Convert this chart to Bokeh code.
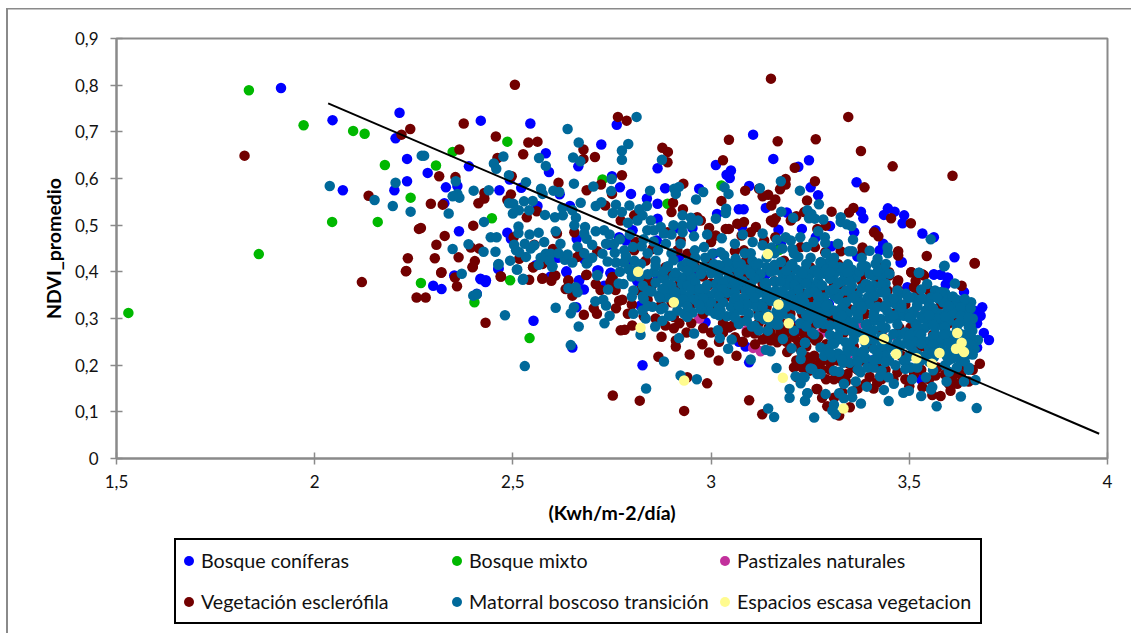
from bokeh.plotting import figure
from bokeh.layouts import column
from bokeh.models import Legend, LegendItem, FixedTicker
from bokeh.embed import file_html
from bokeh.resources import INLINE

x_ticks = [1.5, 2, 2.5, 3, 3.5, 4]
x_labels = ["1,5", "2", "2,5", "3", "3,5", "4"]
y_ticks = [0, 0.1, 0.2, 0.3, 0.4, 0.5, 0.6, 0.7, 0.8, 0.9]
y_labels = ["0", "0,1", "0,2", "0,3", "0,4", "0,5", "0,6", "0,7", "0,8", "0,9"]
trend_x = [2.034, 3.979]
trend_y = [0.761, 0.053]

coniferas = [(1.915,.794),(2.045,.725),(2.214,.741),(2.204,.686),(2.233,.642),(2.071,.575),(2.201,.575),(2.233,.594),
(2.419,.724),(2.544,.718),(2.762,.715),(2.723,.673),(2.583,.654),(2.389,.626),(2.285,.612),(2.591,.614),(2.665,.626),(2.865,.622),(3.012,.629),(3.05,.617),(3.039,.608),(3.047,.601),(2.75,.605),(2.331,.581),(2.36,.584),(2.492,.598),(2.521,.58),(2.466,.575),(2.77,.581),(2.618,.566),(2.798,.567),(2.884,.579),(2.97,.578),(2.838,.557),(2.865,.546),(3.07,.534),(3.015,.524),(2.865,.514),(2.644,.541),(2.562,.541),(2.327,.547),(2.364,.487),(2.486,.484),(2.495,.471),(2.768,.474),(2.785,.467),(2.802,.489),(2.661,.471),(2.743,.458),(2.915,.494),(2.953,.494),(2.613,.43),(2.68,.427),(2.558,.414),(2.464,.407),(2.635,.401),(2.716,.403),(2.747,.398),(2.789,.421),(2.352,.392),(2.418,.385),(2.432,.382),(2.667,.382),(2.814,.382),(2.865,.385),(2.919,.432),(2.957,.389),(3.007,.439),(2.863,.467),
(3.106,.694),(3.157,.642),(3.22,.625),(3.247,.639),(3.367,.592),(3.096,.584),(3.251,.581),(3.27,.564),(3.082,.534),(3.138,.537),(3.191,.527),(3.378,.529),(3.384,.515),(3.446,.536),(3.463,.529),(3.436,.522),(3.487,.521),(3.483,.504),(3.415,.489),(3.533,.482),(3.562,.474),(3.17,.49),(3.229,.492),(3.3,.498),(3.361,.485),(3.264,.474),(3.304,.455),(3.176,.459),(3.434,.46),(3.425,.446),(3.369,.433),(3.481,.421),(3.614,.431),(3.562,.394),(3.579,.394),(3.598,.387),(3.146,.407),(3.138,.394),(3.078,.496),
(2.299,.37),(2.32,.363),(2.409,.353),(2.419,.384),(2.431,.378),(2.552,.295),(2.65,.238),(2.635,.399),(2.66,.324),(2.679,.362),(2.667,.381),(2.73,.37),(2.746,.397),(2.713,.403),(2.595,.39),(2.463,.406),
(2.827,.2),(3.096,.206),(3.087,.24),(3.07,.25),(3.045,.281),(2.986,.292),(2.948,.367),(2.814,.38),(2.822,.328),(2.961,.356),(3.209,.285),(3.217,.274),
(3.562,.395),(3.579,.394),(3.596,.388),(3.592,.373),(3.638,.357),(3.684,.324),(3.663,.317),(3.68,.306),(3.671,.29),(3.688,.269),(3.701,.254),(3.671,.238),(3.613,.331),(3.629,.333),(3.478,.42),(3.495,.367),(3.404,.21),(3.529,.17),(3.297,.331)]

mixto = [(1.53,.312),(1.834,.789),(1.972,.714),(2.097,.702),(2.126,.696),(2.177,.629),(2.242,.559),(2.044,.507),(2.159,.507),(1.859,.438),(2.268,.376),(2.403,.335),(2.493,.382),(2.542,.258),
(2.486,.679),(2.348,.657),(2.306,.628),(2.726,.598),(3.026,.585),(2.89,.546),(2.447,.515),(3.172,.447)]

pastizales = [(2.97,.3),(3.09,.274),(3.106,.237),(3.125,.23),(3.512,.313),(3.276,.268),(3.243,.217),(3.344,.217),(3.466,.263),(3.369,.285),(3.247,.281)]

esclerofila = [(1.823,.649),(2.241,.706),(2.219,.694),(2.136,.563),(2.263,.492),(2.235,.429),(2.23,.401),(2.119,.378),
(2.505,.801),(2.376,.718),(2.457,.69),(2.539,.677),(2.562,.679),(2.365,.662),(2.526,.652),(2.461,.644),(2.765,.732),(2.787,.724),(2.678,.662),(2.678,.642),(2.707,.646),(2.877,.666),(2.891,.657),(2.89,.635),(3.045,.683),(3.03,.639),(2.775,.607),(2.314,.605),(2.355,.603),(2.615,.591),(2.497,.605),(2.722,.587),(2.686,.575),(2.75,.567),(2.93,.589),(2.428,.569),(2.495,.566),(2.486,.554),(2.428,.557),(2.413,.547),(2.293,.546),(2.323,.544),(2.56,.53),(2.535,.517),(2.733,.542),(2.904,.548),(2.9,.528),(2.929,.534),(3.026,.552),(2.806,.521),(2.772,.51),(2.268,.494),(2.4,.499),(2.328,.477),(2.307,.458),(2.303,.429),(2.32,.399),(2.363,.431),(2.394,.452),(2.415,.45),(2.404,.423),(2.398,.41),(2.502,.474),(2.611,.482),(2.655,.485),(2.554,.458),(2.601,.449),(2.516,.428),(2.551,.41),(2.575,.417),(2.47,.39),(2.607,.392),(2.575,.387),(2.64,.382),(2.686,.394),(2.751,.389),(2.663,.432),(2.671,.442),(2.713,.444),(2.81,.464),(2.806,.446),(2.835,.424),(2.852,.449),(2.89,.485),(2.923,.467),(2.965,.517),(2.974,.51),(2.995,.494),(3.037,.492),(3.045,.492),(3.066,.503),(3.012,.478),(3.0,.464),(3.06,.444),(2.915,.446),(2.94,.439),(2.89,.396),(2.839,.385),(3.045,.403),(2.99,.424),
(3.151,.814),(3.346,.732),(3.168,.68),(3.264,.684),(3.378,.659),(3.458,.626),(3.609,.606),(3.211,.623),(3.188,.599),(3.188,.587),(3.174,.577),(3.262,.594),(3.387,.581),(3.086,.574),(3.121,.578),(3.13,.562),(3.144,.565),(3.162,.555),(3.152,.542),(3.242,.553),(3.304,.529),(3.359,.537),(3.348,.527),(3.454,.515),(3.504,.504),(3.083,.507),(3.151,.51),(3.163,.515),(3.157,.506),(3.201,.51),(3.215,.519),(3.235,.528),(3.268,.492),(3.289,.499),(3.113,.496),(3.1,.485),(3.077,.478),(3.162,.474),(3.411,.485),(3.422,.476),(3.382,.452),(3.382,.442),(3.327,.444),(3.288,.442),(3.262,.453),(3.472,.444),(3.472,.435),(3.544,.434),(3.665,.419),(3.32,.417),(3.382,.396),(3.449,.399),(3.505,.399),(3.537,.392),(3.472,.382),(3.184,.424),(3.18,.407),(3.083,.446),(3.088,.424),(3.079,.392),(3.134,.467),(3.226,.453),
(2.231,.402),(2.319,.398),(2.257,.345),(2.28,.345),(2.359,.369),(2.354,.388),(2.399,.411),(2.469,.39),(2.431,.291),(2.679,.308),(2.712,.31),(2.704,.322),(2.65,.349),(2.633,.363),(2.64,.38),(2.551,.41),(2.574,.385),(2.541,.383),(2.604,.392),(2.597,.381),(2.685,.393),(2.709,.374),(2.721,.361),(2.759,.361),(2.76,.322),(2.751,.388),(2.746,.378),(2.752,.135),(2.772,.275),(2.768,.338),
(2.82,.124),(2.932,.102),(3.096,.125),(3.129,.095),(2.99,.161),(2.94,.174),(2.946,.223),(2.867,.218),(2.875,.261),(2.911,.24),(2.978,.245),(2.995,.227),(3.019,.21),(3.064,.22),(3.111,.245),(2.98,.279),(2.906,.279),(2.782,.276),(2.801,.285),(2.911,.253),(2.938,.27),(3.045,.281),(2.776,.34),(2.839,.383),(2.961,.345),(2.873,.328),(2.906,.303),(3.049,.363),(3.079,.392),(2.99,.37),(3.142,.263),(3.15,.253),(3.175,.274),(3.192,.228),(3.167,.249),(3.209,.195),(3.234,.27),(3.247,.21),(3.268,.149),(3.276,.188),(3.217,.174),(3.2,.374),(3.234,.381),(3.142,.353),(2.885,.41),
(3.505,.399),(3.516,.381),(3.512,.367),(3.47,.378),(3.47,.363),(3.449,.392),(3.43,.41),(3.318,.413),(3.327,.374),(3.31,.37),(3.36,.356),(3.335,.353),(3.533,.395),(3.665,.418),(3.632,.37),(3.598,.342),(3.678,.203),(3.579,.134),(3.604,.145),(3.621,.16),(3.558,.136),(3.533,.153),(3.566,.178),(3.419,.163),(3.266,.149),(3.293,.112),(3.323,.092),(3.331,.142),(3.234,.267),(3.26,.288),(3.264,.253),(3.243,.217),(3.23,.195),(3.247,.188),(3.36,.195),(3.344,.181),(3.348,.203),(3.419,.195),(3.428,.217),(3.512,.181),(3.571,.195),(3.613,.295),(3.608,.174),(3.377,.306),(3.31,.292),(3.503,.281),(3.234,.353),(3.289,.36)]

esclerofila_centro = [(2.96,.41),(2.98,.39),(3.0,.375),(3.02,.4),(3.035,.345),(3.01,.33),(2.985,.35),(2.95,.33),(2.93,.345),(2.915,.37),(2.9,.335),(3.06,.395),(3.075,.365),(3.09,.38),(3.115,.39),(3.13,.375),(3.1,.345),(3.12,.315),(3.14,.325),(3.065,.325),(3.08,.295),(3.055,.285),(3.12,.29),(3.145,.28),(3.16,.3),(3.18,.29),(3.2,.31),(3.19,.345),(3.215,.36),(3.25,.34),(3.23,.31),(3.17,.26),(3.19,.25),(3.21,.26),(3.225,.235),(3.2,.235),(3.215,.21),(3.24,.24),(3.26,.22),(3.27,.26),(3.285,.28),(3.3,.3),(3.29,.245),(3.3,.205),(3.275,.205),(3.31,.17),(3.29,.17),(3.34,.165),(3.32,.21),(3.335,.27),(3.36,.24),(3.38,.21),(3.4,.175),(3.395,.24),(3.35,.32),(3.39,.31),(3.42,.335),(3.445,.36),(3.46,.31),(3.43,.27),(3.475,.28),(3.49,.33),(3.52,.35),(3.55,.36),(3.58,.33),(3.56,.265),(3.6,.29),(3.63,.3),(3.62,.19),(3.59,.18),(3.55,.17),(3.5,.155),(3.47,.185),(3.44,.19),(3.52,.235),(3.54,.24),(3.48,.22),(3.65,.165),(3.64,.2),(3.41,.15),(3.37,.15),(3.35,.11),(3.31,.13),(3.28,.13),(3.38,.38),(3.35,.39),(3.42,.38),(3.28,.4),(3.25,.41),(3.2,.41),(3.16,.38),(2.82,.36),(2.85,.37),(2.84,.34),(2.8,.33),(2.79,.31),(2.83,.305),(2.86,.3),(2.885,.285),(2.92,.29),(2.95,.29),(2.98,.31),(3.03,.29),(3.0,.27),(3.02,.25),(3.06,.26),(3.08,.25),
(3.03,.27),(3.09,.27),(3.11,.268),(3.13,.255),(3.15,.27),(3.17,.285),(3.19,.27),(3.21,.28),(3.22,.25),(3.25,.26),(3.26,.2),(3.28,.19),(3.3,.19),(3.33,.17),(3.37,.19),(3.39,.16),(3.43,.17),(3.46,.17),(3.49,.17),(3.53,.19),(3.6,.16),(3.63,.18),(3.66,.19)]

matorral = [(2.27,.649),(2.038,.584),(2.204,.591),(2.151,.554),(2.197,.541),(2.242,.529),
(2.638,.706),(2.812,.732),(2.666,.677),(2.791,.674),(2.775,.66),(2.775,.64),(2.276,.649),(2.476,.647),(2.566,.644),(2.652,.645),(2.67,.637),(2.583,.627),(2.452,.632),(2.458,.621),(2.876,.64),(2.49,.607),(2.533,.592),(2.356,.594),(2.749,.599),(2.654,.589),(2.703,.583),(2.571,.578),(2.602,.574),(2.617,.571),(2.575,.567),(2.439,.575),(2.401,.574),(2.36,.567),(2.348,.562),(2.365,.559),(2.748,.573),(2.846,.574),(2.907,.578),(2.919,.582),(2.911,.567),(2.98,.571),(2.962,.555),(3.034,.581),(3.044,.567),(2.49,.547),(2.501,.546),(2.528,.551),(2.55,.552),(2.541,.532),(2.515,.532),(2.5,.525),(2.581,.522),(2.606,.517),(2.625,.537),(2.626,.521),(2.65,.532),(2.659,.516),(2.655,.5),(2.671,.548),(2.709,.541),(2.723,.549),(2.76,.544),(2.752,.526),(2.775,.528),(2.794,.542),(2.819,.534),(2.838,.541),(2.814,.51),(2.848,.51),(2.827,.521),(2.79,.505),(2.338,.525),(2.427,.507),(2.514,.497),(2.514,.483),(2.444,.474),(2.459,.474),(2.542,.48),(2.565,.484),(2.608,.487),(2.682,.496),(2.68,.482),(2.686,.471),(2.709,.487),(2.73,.489),(2.744,.48),(2.7,.458),(2.663,.454),(2.579,.464),(2.503,.458),(2.508,.446),(2.554,.457),(2.545,.45),(2.533,.432),(2.493,.424),(2.516,.442),(2.388,.459),(2.348,.449),(2.426,.443),(2.456,.443),(2.464,.417),(2.511,.405),(2.371,.396),(2.526,.385),(2.583,.439),(2.596,.439),(2.592,.424),(2.6,.412),(2.631,.426),(2.638,.437),(2.688,.42),(2.713,.392),(2.726,.439),(2.739,.422),(2.755,.46),(2.757,.441),(2.781,.446),(2.785,.434),(2.803,.453),(2.793,.405),(2.806,.424),(2.823,.417),(2.814,.407),(2.839,.489),(2.856,.489),(2.873,.496),(2.881,.482),(2.886,.46),(2.866,.446),(2.86,.424),(2.856,.399),(2.877,.389),(2.891,.412),(2.928,.499),(2.928,.485),(2.923,.46),(2.957,.476),(2.959,.446),(2.982,.453),(2.932,.41),(2.957,.41),(2.982,.41),(2.974,.396),(3.003,.439),(3.024,.442),(3.033,.435),(3.007,.417),(3.012,.399),(3.062,.428),(3.066,.407),(2.928,.521),(2.949,.516),(2.967,.51),(3.012,.514),(3.038,.535),(3.037,.526),(3.027,.472),(2.919,.389),(2.94,.385),
(3.123,.579),(3.176,.594),(3.224,.574),(3.272,.545),(3.177,.529),(3.207,.516),(3.243,.532),(3.253,.524),(3.247,.515),(3.262,.514),(3.283,.512),(3.327,.517),(3.327,.507),(3.342,.502),(3.354,.498),(3.13,.482),(3.225,.474),(3.27,.487),(3.287,.474),(3.288,.462),(3.358,.469),(3.105,.464),(3.13,.457),(3.166,.469),(3.188,.474),(3.201,.467),(3.152,.452),(3.205,.449),(3.241,.453),(3.258,.464),(3.22,.432),(3.209,.439),(3.251,.43),(3.356,.444),(3.348,.444),(3.445,.452),(3.446,.44),(3.554,.47),(3.42,.428),(3.441,.417),(3.436,.404),(3.39,.412),(3.588,.412),(3.525,.398),(3.365,.389),(3.409,.392),(3.104,.424),(3.113,.41),(3.159,.403),(3.176,.421),(3.205,.417),(3.235,.403),(3.264,.403),(3.277,.421),(3.298,.421),(3.285,.396),(3.31,.396),(3.335,.398),(3.201,.389),(3.117,.389),(3.075,.417),
(2.4,.349),(2.409,.352),(2.48,.307),(2.525,.383),(2.51,.405),(2.599,.411),(2.53,.198),(2.646,.243),(2.666,.283),(2.646,.311),(2.654,.324),(2.608,.323),(2.64,.365),(2.658,.367),(2.663,.356),(2.708,.337),(2.728,.34),(2.735,.328),(2.744,.306),(2.731,.29),(2.74,.362),(2.713,.393),(2.767,.375),(2.686,.418),(2.463,.415),
(2.836,.15),(2.881,.208),(2.964,.17),(2.923,.178),(2.822,.265),(2.859,.283),(2.919,.258),(2.957,.268),(3.017,.275),(3.022,.258),(3.052,.255),(3.043,.235),(3.1,.212),(3.138,.233),(3.15,.23),(3.165,.194),(3.144,.107),(3.159,.089),(3.26,.088),(3.198,.149),(3.198,.13),(3.237,.124),(3.243,.14),(3.213,.176),(3.23,.174),(3.226,.161),(3.181,.256),(3.203,.236),(3.226,.213),(3.228,.228),(3.237,.248),(3.251,.193),(3.268,.181),(3.143,.274),(3.164,.287),(3.103,.283),(3.07,.292),
(2.793,.406),(2.86,.413),(2.89,.411),(2.927,.413),(2.953,.41),(2.974,.395),(2.923,.388),(2.881,.385),(2.828,.37),(2.804,.36),(2.828,.347),(2.779,.374),(2.927,.374),(2.877,.363),(2.869,.349),(2.898,.353),(2.927,.353),(2.961,.363),(2.969,.356),(3.012,.374),(3.024,.367),(3.041,.381),(2.995,.349),(2.982,.331),(2.995,.317),(3.024,.317),(3.058,.338),(3.075,.342),(3.066,.37),(3.087,.36),(3.108,.36),(3.058,.41),(3.066,.417),(3.108,.413),(3.159,.403),(3.192,.388),(3.23,.374),(3.268,.403),(3.209,.363),(3.23,.345),(3.264,.363),(3.079,.317),(3.104,.331),(3.125,.331),(3.058,.31),(3.07,.288),(3.133,.299),(3.18,.31),(3.15,.338),(3.163,.36),(3.268,.306),(3.243,.295),(3.255,.324),(3.217,.331),(3.209,.274),(2.804,.31),(2.827,.317),(2.835,.3),(2.852,.325),(2.873,.32),(2.877,.295),(2.894,.306),(2.915,.317),(2.932,.31),(2.953,.313),
(3.589,.413),(3.615,.375),(3.524,.398),(3.545,.374),(3.39,.411),(3.415,.417),(3.434,.406),(3.365,.388),(3.409,.392),(3.394,.373),(3.335,.397),(3.31,.395),(3.281,.399),(3.302,.413),(3.26,.403),(3.239,.399),(3.276,.42),(3.234,.381),(3.251,.37),(3.268,.353),(3.31,.349),(3.323,.353),(3.356,.345),(3.384,.335),(3.407,.353),(3.428,.356),(3.491,.353),(3.497,.344),(3.537,.342),(3.573,.343),(3.656,.335),(3.65,.324),(3.628,.319),(3.596,.317),(3.562,.317),(3.541,.317),(3.495,.31),(3.465,.331),(3.436,.324),(3.411,.313),(3.365,.32),(3.335,.317),(3.31,.317),(3.276,.317),(3.247,.299),(3.285,.288),(3.323,.281),(3.356,.292),(3.394,.288),(3.428,.299),(3.47,.303),(3.486,.306),(3.516,.288),(3.55,.292),(3.583,.288),(3.638,.295),(3.655,.285),(3.659,.274),(3.673,.254),(3.642,.263),(3.604,.263),(3.57,.263),(3.528,.263),(3.495,.253),(3.478,.242),(3.444,.235),(3.411,.235),(3.386,.231),(3.344,.235),(3.306,.248),(3.237,.248),(3.276,.238),(3.285,.22),(3.306,.217),(3.333,.205),(3.339,.249),(3.369,.217),(3.423,.213),(3.449,.21),(3.486,.21),(3.503,.195),(3.529,.21),(3.562,.217),(3.596,.217),(3.629,.21),(3.656,.224),(3.65,.195),(3.255,.192),(3.276,.181),(3.31,.188),(3.323,.186),(3.365,.165),(3.377,.185),(3.394,.195),(3.426,.176),(3.447,.174),(3.461,.16),(3.507,.17),(3.542,.174),(3.594,.165),(3.638,.165),(3.667,.168),(3.393,.154),(3.436,.147),(3.485,.141),(3.499,.145),(3.558,.153),(3.555,.148),(3.53,.134),(3.63,.133),(3.569,.112),(3.67,.108),(3.448,.123),(3.378,.118),(3.289,.138),(3.243,.14),(3.237,.123),(3.323,.14),(3.335,.16),(3.356,.144),(3.335,.129),(3.356,.131),(3.31,.115),(3.306,.103),(3.314,.095),(3.236,.174)]

matorral_centro = [(3.0,.41),(3.03,.405),(3.045,.39),(3.09,.405),(3.125,.395),(3.14,.41),(3.18,.395),(3.215,.405),(3.25,.395),(3.29,.405),(3.325,.41),(3.355,.405),(3.375,.4),(3.4,.395),(3.43,.39),
(3.02,.385),(3.05,.375),(3.08,.38),(3.11,.385),(3.135,.375),(3.16,.38),(3.19,.37),(3.22,.385),(3.245,.385),(3.27,.38),(3.3,.385),(3.33,.38),(3.355,.37),(3.38,.365),(3.41,.37),(3.44,.375),(3.565,.36),(3.59,.355),
(2.985,.365),(3.01,.355),(3.04,.355),(3.09,.35),(3.12,.355),(3.14,.345),(3.175,.355),(3.2,.35),(3.215,.34),(3.245,.355),(3.285,.345),(3.3,.36),(3.34,.36),(3.37,.35),(3.395,.345),(3.445,.345),(3.47,.345),(3.51,.345),(3.555,.345),(3.595,.34),(3.62,.34),
(2.96,.34),(3.0,.335),(3.03,.335),(3.05,.325),(3.09,.33),(3.115,.325),(3.165,.335),(3.19,.325),(3.235,.335),(3.27,.335),(3.295,.33),(3.34,.335),(3.37,.335),(3.4,.33),(3.45,.335),(3.48,.33),(3.52,.33),(3.55,.33),(3.585,.335),(3.615,.325),(3.64,.33),
(2.975,.32),(3.01,.31),(3.04,.305),(3.095,.31),(3.14,.31),(3.165,.315),(3.2,.3),(3.225,.32),(3.26,.31),(3.295,.315),(3.32,.305),(3.345,.31),(3.38,.32),(3.42,.325),(3.445,.315),(3.475,.315),(3.51,.315),(3.53,.305),(3.575,.31),(3.61,.31),(3.645,.31),(3.66,.3),
(3.09,.295),(3.15,.29),(3.225,.29),(3.27,.29),(3.3,.285),(3.34,.295),(3.37,.3),(3.41,.295),(3.45,.3),(3.505,.3),(3.535,.3),(3.57,.3),(3.6,.295),(3.625,.29),
(3.12,.275),(3.255,.27),(3.3,.265),(3.34,.275),(3.37,.27),(3.39,.27),(3.41,.275),(3.44,.28),(3.475,.265),(3.51,.27),(3.54,.28),(3.565,.28),(3.59,.275),(3.62,.275),(3.65,.27),(3.66,.255),
(3.32,.255),(3.36,.255),(3.41,.255),(3.445,.255),(3.49,.27),(3.515,.25),(3.545,.25),(3.58,.25),(3.61,.25),(3.63,.255),(3.655,.245),
(3.295,.235),(3.36,.23),(3.43,.235),(3.465,.24),(3.51,.23),(3.55,.235),(3.58,.235),(3.6,.23),(3.645,.235),(3.665,.235),
(3.32,.225),(3.39,.215),(3.44,.22),(3.5,.22),(3.54,.22),(3.61,.215),(3.64,.22),
(3.35,.205),(3.41,.195),(3.465,.2),(3.52,.195),(3.59,.2),(3.62,.195),
(2.95,.39),(2.94,.37),(2.905,.39),(2.9,.37),(2.885,.345),(2.92,.335),(2.945,.345),(2.84,.395),(2.82,.39),(2.84,.36),(2.8,.39),(2.77,.4),(2.76,.42),(2.78,.42),(2.84,.44),(2.825,.455),(2.9,.44),(2.905,.425),(2.94,.42),(2.96,.43),(2.985,.43),(3.04,.42),(3.085,.44),(3.1,.44),(3.14,.43),(3.16,.44),(3.18,.45),(3.29,.44),(3.31,.43),(3.32,.46),(3.38,.43),(3.4,.445),
(2.7,.43),(2.68,.44),(2.65,.42),(2.615,.44),(2.62,.46),(2.57,.43),(2.565,.415),(2.53,.46),(2.735,.46),(2.77,.47),(2.795,.48),(2.83,.47),(2.855,.465),(2.9,.48),(2.905,.5),(2.95,.5),(2.99,.48),(3.06,.46),(3.08,.48)]

matorral_relleno = [(2.95,.417),(3.02,.414),(3.07,.412),(3.12,.418),(3.16,.415),(3.2,.413),(3.24,.417),(3.31,.414),(3.345,.416),(3.38,.412),
(2.88,.401),(2.91,.398),(2.94,.402),(3.0,.397),(3.04,.401),(3.07,.398),(3.1,.396),(3.15,.4),(3.19,.403),(3.23,.397),(3.27,.395),(3.3,.399),(3.345,.398),(3.42,.401),(3.45,.396),
(2.86,.377),(2.89,.374),(2.96,.378),(2.99,.372),(3.03,.375),(3.06,.378),(3.1,.373),(3.14,.376),(3.175,.379),(3.21,.372),(3.24,.375),(3.28,.371),(3.32,.376),(3.35,.379),(3.39,.374),(3.43,.372),
(2.85,.358),(2.88,.362),(2.91,.357),(2.95,.361),(2.97,.364),(3.03,.362),(3.06,.357),(3.1,.36),(3.14,.363),(3.18,.358),(3.22,.361),(3.26,.357),(3.31,.363),(3.35,.359),(3.4,.362),(3.44,.358),(3.47,.36),(3.53,.362),(3.58,.357),
(2.8,.347),(2.83,.342),(2.87,.345),(2.91,.348),(2.93,.341),(2.98,.344),(3.02,.347),(3.06,.343),(3.11,.345),(3.16,.348),(3.19,.341),(3.23,.344),(3.27,.347),(3.32,.342),(3.36,.345),(3.41,.347),(3.46,.343),(3.5,.346),(3.53,.342),(3.57,.345),(3.61,.347),(3.64,.342),
(2.84,.327),(2.88,.323),(2.94,.326),(2.97,.329),(3.02,.323),(3.07,.327),(3.13,.325),(3.17,.322),(3.21,.328),(3.25,.324),(3.29,.327),(3.33,.323),(3.38,.326),(3.44,.328),(3.48,.323),(3.52,.326),(3.56,.322),(3.6,.327),(3.63,.324),(3.655,.322),
(2.9,.306),(2.94,.303),(3.02,.307),(3.06,.302),(3.12,.305),(3.17,.303),(3.24,.307),(3.28,.303),(3.33,.306),(3.37,.308),(3.41,.304),(3.46,.306),(3.5,.302),(3.55,.307),(3.59,.304),(3.63,.306),(3.65,.302),
(3.11,.284),(3.17,.287),(3.24,.283),(3.32,.286),(3.36,.283),(3.39,.287),(3.43,.284),(3.47,.287),(3.52,.284),(3.56,.286),(3.59,.282),(3.62,.286),(3.65,.283),
(3.26,.266),(3.32,.263),(3.36,.267),(3.4,.264),(3.43,.262),(3.46,.267),(3.5,.264),(3.53,.266),(3.56,.262),(3.59,.265),(3.63,.267),(3.655,.263),
(3.31,.246),(3.35,.243),(3.39,.247),(3.43,.244),(3.47,.247),(3.5,.243),(3.53,.246),(3.56,.244),(3.6,.247),(3.63,.243),(3.65,.246),
(3.3,.226),(3.34,.223),(3.38,.227),(3.42,.224),(3.47,.226),(3.52,.223),(3.56,.227),(3.59,.224),(3.62,.226),(3.66,.223),
(3.33,.212),(3.37,.208),(3.41,.211),(3.44,.207),(3.49,.21),(3.55,.207),(3.6,.211),(3.64,.208),
(3.37,.191),(3.43,.188),(3.49,.192),(3.56,.189),(3.6,.186),(3.65,.19)]

escasa = [(2.816,.4),(2.906,.335),(2.822,.28),(2.932,.167),(3.17,.33),(3.144,.303),(3.196,.29),(3.181,.173),(3.143,.438),
(3.386,.254),(3.436,.256),(3.467,.224),(3.518,.215),(3.557,.203),(3.576,.226),(3.621,.269),(3.632,.248),(3.618,.235),(3.638,.228),(3.334,.107)]

series = [("Bosque coníferas", coniferas, "#0000FF"), ("Bosque mixto", mixto, "#00B800"),
          ("Pastizales naturales", pastizales, "#C2309C"), ("Vegetación esclerófila", esclerofila + esclerofila_centro, "#720000"),
          ("Matorral boscoso transición", matorral + matorral_centro + matorral_relleno, "#00699A"), ("Espacios escasa vegetacion", escasa, "#FFFB8F")]

FONT = "Lato"
GREY = "#8A8A8A"
p = figure(width=1131, height=533, x_range=(1.5, 4), y_range=(0, 0.9), output_backend="svg",
           toolbar_location=None, min_border_left=116, min_border_top=38, min_border_right=24, min_border_bottom=75)
p.styles = {"background": "linear-gradient(%s,%s) 6px 8px/2px 100%% no-repeat, linear-gradient(%s,%s) 6px 8px/100%% 1.5px no-repeat" % (GREY, GREY, GREY, GREY)}
p.border_fill_color = None
p.grid.visible = False
p.outline_line_color = GREY
p.outline_line_width = 2
p.background_fill_color = "white"

p.xaxis.ticker = FixedTicker(ticks=x_ticks)
p.yaxis.ticker = FixedTicker(ticks=y_ticks)
p.xaxis.major_label_overrides = dict(zip(x_ticks, x_labels))
p.yaxis.major_label_overrides = dict(zip(y_ticks, y_labels))
for ax in (p.xaxis[0], p.yaxis[0]):
    ax.axis_line_color = GREY
    ax.axis_line_width = 2
    ax.major_tick_line_color = GREY
    ax.major_tick_line_width = 1.5
    ax.major_tick_in = 6
    ax.major_tick_out = 6
    ax.minor_tick_line_color = None
    ax.major_label_text_font = FONT
    ax.major_label_text_font_size = "17px"
    ax.major_label_text_color = "#111111"
    ax.axis_label_text_font = FONT
    ax.axis_label_text_font_size = "19.5px"
    ax.axis_label_text_font_style = "bold"
    ax.axis_label_text_color = "#000000"
p.xaxis.axis_label = "(Kwh/m-2/día)"
p.yaxis.axis_label = "NDVI_promedio"
p.xaxis.major_label_standoff = 10
p.yaxis.major_label_standoff = 12
p.xaxis.axis_label_standoff = 10
p.yaxis.axis_label_standoff = 7

for name, pts, col in series:
    p.scatter([a for a, b in pts], [b for a, b in pts], size=10.5, color=col, line_color=col, line_width=0)
p.line(trend_x, trend_y, line_color="black", line_width=2)

# legend lives in a small figure of its own, under the chart; its ranges lie away from the data
q = figure(width=1131, height=100, x_range=(10, 11), y_range=(10, 11), output_backend="svg", toolbar_location=None,
           x_axis_location=None, y_axis_location=None,
           min_border_left=116, min_border_right=24, min_border_top=4, min_border_bottom=8)
q.styles = {"background": "linear-gradient(%s,%s) 6px 0/2px 100%% no-repeat" % (GREY, GREY)}
q.border_fill_color = None
q.grid.visible = False
q.outline_line_color = None
items = []
for name, pts, col in series:
    r = q.scatter([a for a, b in pts], [b for a, b in pts], size=10, color=col, line_width=0)
    items.append(LegendItem(label=name, renderers=[r]))
legend = Legend(items=items, ncols=3, location=(58, 1), orientation="horizontal",
                label_text_font=FONT, label_text_font_size="19.7px", label_text_color="#111111",
                border_line_color="black", border_line_width=2.5, border_line_alpha=1,
                background_fill_color="white", background_fill_alpha=1,
                glyph_width=25, glyph_height=41, label_height=41, label_width=243, label_standoff=0,
                spacing=0, padding=0, margin=0)
q.add_layout(legend, "center")

layout = column(p, q, spacing=0)
open("out.html", "w").write(file_html(layout, INLINE))
